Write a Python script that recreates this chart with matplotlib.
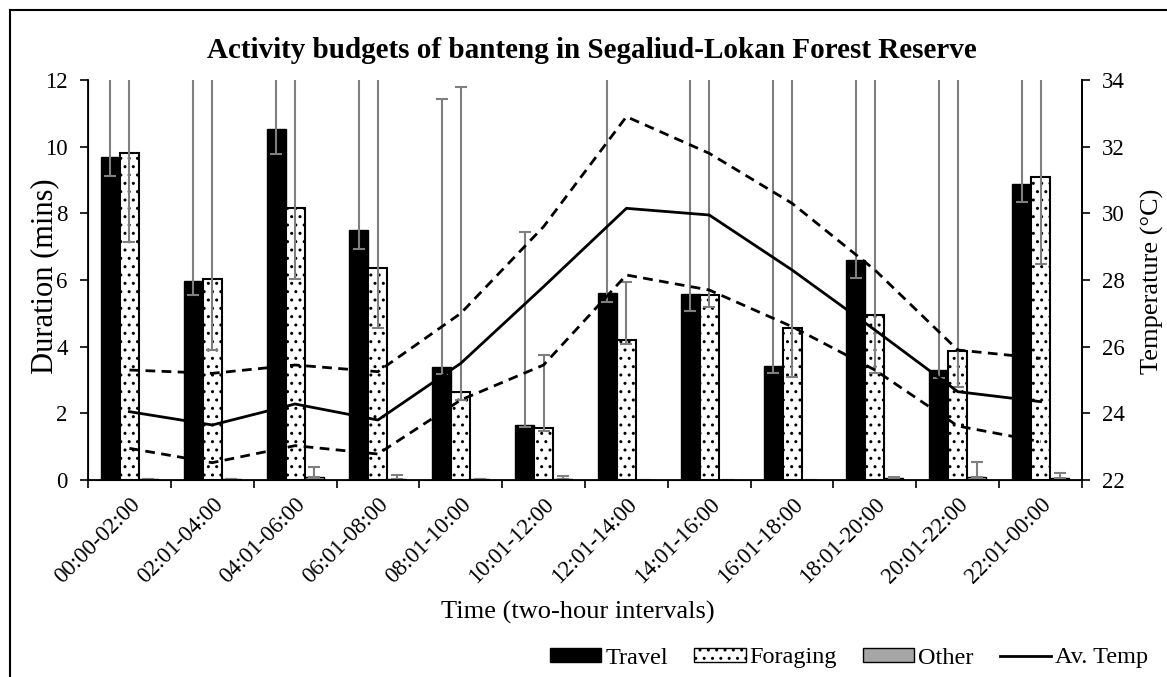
import numpy as np
import matplotlib
matplotlib.use("Agg")
import matplotlib.pyplot as plt
from matplotlib.patches import Patch
from matplotlib.lines import Line2D

plt.rcParams['font.family'] = ['Liberation Serif', 'DejaVu Serif']
plt.rcParams['hatch.linewidth'] = 1.0

# data
intervals = ['00:00-02:00', '02:01-04:00', '04:01-06:00', '06:01-08:00',
             '08:01-10:00', '10:01-12:00', '12:01-14:00', '14:01-16:00',
             '16:01-18:00', '18:01-20:00', '20:01-22:00', '22:01-00:00']

travel = [9.68, 5.97, 10.53, 7.50, 3.40, 1.65, 5.60, 5.57, 3.43, 6.60, 3.30, 8.87]
travel_err_lo = [0.55, 0.42, 0.75, 0.58, 0.23, 0.05, 0.26, 0.49, 0.21, 0.53, 0.23, 0.54]
travel_err_hi = [14.0, 14.0, 14.0, 14.0, 8.02, 5.80, 14.0, 14.0, 14.0, 14.0, 14.0, 14.0]

foraging = [9.82, 6.03, 8.17, 6.35, 2.63, 1.55, 4.20, 5.55, 4.57, 4.95, 3.87, 9.10]
foraging_err_lo = [2.69, 2.13, 2.14, 1.80, 0.23, 0.08, 0.13, 0.35, 1.49, 1.73, 1.07, 2.62]
foraging_err_hi = [14.0, 14.0, 14.0, 14.0, 9.17, 2.21, 1.74, 14.0, 14.0, 14.0, 14.0, 14.0]

other = [0.03, 0.02, 0.08, 0.04, 0.02, 0.04, 0.00, 0.01, 0.01, 0.05, 0.10, 0.05]
other_err_lo = [0, 0, 0, 0, 0, 0, 0, 0, 0, 0, 0, 0]
other_err_hi = [0, 0, 0.30, 0.10, 0, 0.09, 0, 0, 0, 0.05, 0.43, 0.15]

temp_avg = [24.05, 23.65, 24.28, 23.80, 25.50, 27.80, 30.15, 29.95, 28.30, 26.50, 24.65, 24.35]
temp_max = [25.30, 25.20, 25.45, 25.25, 27.00, 29.60, 32.90, 31.80, 30.30, 28.30, 25.90, 25.65]
temp_min = [22.95, 22.52, 23.03, 22.78, 24.40, 25.45, 28.15, 27.70, 26.60, 25.30, 23.62, 23.15]

x = np.arange(len(intervals))
w = 0.23
errcol = '#7f7f7f'
ekw = dict(ecolor=errcol, elinewidth=1.5, capsize=4, capthick=1.5)
tick_fs = 16.5

fig = plt.figure(figsize=(11.67, 6.77), dpi=100)
ax = fig.add_axes([88/1167, 1-480/677, (1082-88)/1167, 400/677])

ax.bar(x - w, travel, w, color='black', edgecolor='black', linewidth=1,
       yerr=[travel_err_lo, travel_err_hi], error_kw=ekw, zorder=2)
ax.bar(x, foraging, w, color='white', edgecolor='black', linewidth=1.5, hatch='..',
       yerr=[foraging_err_lo, foraging_err_hi], error_kw=ekw, zorder=2)
ax.bar(x + w, other, w, color='#a6a6a6', edgecolor='black', linewidth=1,
       yerr=[other_err_lo, other_err_hi], error_kw=ekw, zorder=2)

ax.set_xlim(-0.5, len(intervals) - 0.5)
ax.set_ylim(0, 12)
ax.set_yticks(range(0, 13, 2))
ax.set_xticks(x)
ax.set_xticklabels(intervals, rotation=45, ha='right', rotation_mode='anchor')
ax.set_xticks(np.arange(-0.5, len(intervals)), minor=True)
ax.tick_params(axis='x', which='major', length=0, pad=10, labelsize=tick_fs)
ax.tick_params(axis='x', which='minor', length=6, width=1.2, direction='out')
ax.tick_params(axis='y', length=6, width=1.2, direction='out', labelsize=tick_fs, pad=8.5)
ax.spines['top'].set_visible(False)
for s in ['left', 'right', 'bottom']:
    ax.spines[s].set_linewidth(1.3)

ax2 = ax.twinx()
ax2.plot(x, temp_avg, color='black', lw=2, zorder=3)
ax2.plot(x, temp_max, color='black', lw=2, ls=(0, (3.5, 2.3)), zorder=3)
ax2.plot(x, temp_min, color='black', lw=2, ls=(0, (3.5, 2.3)), zorder=3)
ax2.set_ylim(22, 34)
ax2.set_yticks(range(22, 35, 2))
ax2.tick_params(axis='y', length=6, width=1.2, direction='out', labelsize=tick_fs, pad=8.5)
ax2.spines['top'].set_visible(False)
ax2.spines['right'].set_linewidth(1.3)

fig.text(592/1167, 1-50/677, 'Activity budgets of banteng in Segaliud-Lokan Forest Reserve',
         ha='center', va='center', fontsize=21, fontweight='bold')
fig.text(578/1167, 1-612/677, 'Time (two-hour intervals)', ha='center', va='center', fontsize=19)
fig.text(45/1167, 1-276/677, 'Duration (mins)', ha='center', va='center',
         rotation=90, fontsize=22)
fig.text(1152/1167, 1-281/677, 'Temperature (\u00b0C)', ha='center', va='center',
         rotation=90, fontsize=19)

handles = [Patch(facecolor='black', edgecolor='black', label='Travel'),
           Patch(facecolor='white', edgecolor='black', hatch='..', label='Foraging'),
           Patch(facecolor='#a6a6a6', edgecolor='black', label='Other'),
           Line2D([0], [0], color='black', lw=2, label='Av. Temp')]
fig.legend(handles=handles, loc='center right', bbox_to_anchor=(1148/1167, 1-658/677),
           ncol=4, frameon=False, fontsize=17.5, handlelength=2.1, handleheight=0.5,
           handletextpad=0.15, columnspacing=1.1, borderpad=0, borderaxespad=0)

# frame of the original picture (left and top edges only)
fig.add_artist(Line2D([10/1167, 10/1167], [0, 1-10/677], color='black', lw=1.5))
fig.add_artist(Line2D([10/1167, 1], [1-10/677, 1-10/677], color='black', lw=1.5))

fig.savefig('out.png', dpi=100)
